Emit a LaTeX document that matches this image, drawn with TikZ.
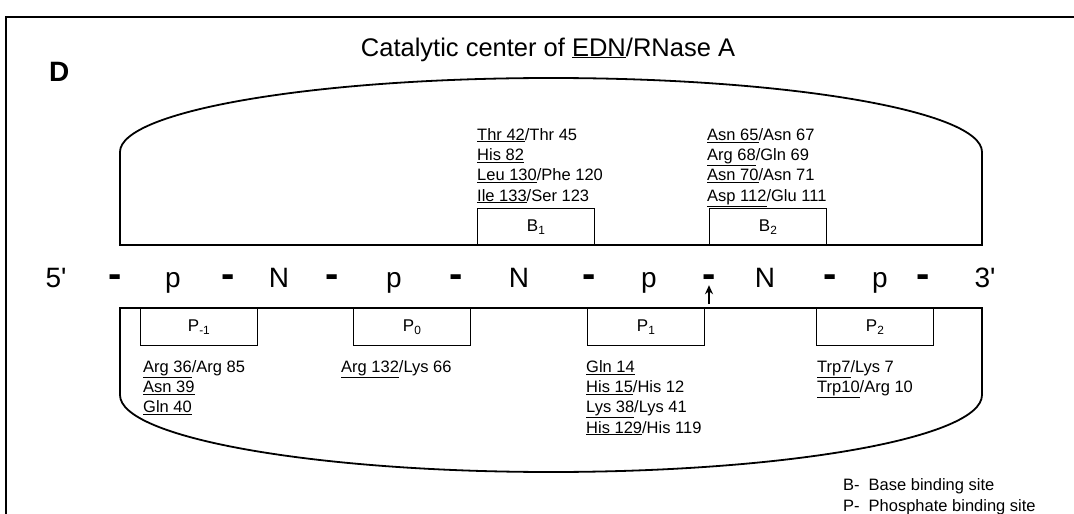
\documentclass[tikz,border=0pt]{standalone}
\usepackage{fontspec}
\setmainfont{Liberation Sans}
\usetikzlibrary{arrows.meta,positioning}

\tikzset{
  outline/.style={line width=1.8pt},
  sitebox/.style={draw, line width=1.3pt, minimum width=117pt, minimum height=37pt,
    inner sep=0pt, font=\fontsize{17}{19}\selectfont},
  restxt/.style={anchor=north west, inner sep=0pt, align=left,
    font={\fontsize{16.5}{20.3}\selectfont\lineskiplimit=-20pt}},
  seqtxt/.style={anchor=base, inner sep=0pt, font=\fontsize{28}{32}\selectfont},
  seqdash/.style={anchor=base, inner sep=0pt, font=\bfseries\fontsize{40}{42}\selectfont},
}

\begin{document}
\begin{tikzpicture}[x=1pt,y=1pt]
    \useasboundingbox (0,0) rectangle (1074,-514);

    % frame and headings
    \draw[line width=2.2pt] (6,-514) -- (6,-17) -- (1074,-17);
    \node[font=\bfseries\fontsize{28}{32}\selectfont, anchor=base west, inner sep=0pt] (panel) at (49,-81) {D};
    \node[font=\fontsize{25.5}{30}\selectfont, anchor=base, inner sep=0pt] (title) at (548,-56) {Catalytic center of \underline{EDN}/RNase A};

    % the two halves of the pocket
    \draw[outline] (120,-245) -- (120,-152) arc[start angle=180, end angle=0, x radius=431, y radius=74] -- (982,-245) -- cycle;
    \draw[outline] (120,-308) -- (120,-395) arc[start angle=180, end angle=360, x radius=431, y radius=77] -- (982,-308) -- cycle;

    % binding sites
    \node[sitebox, anchor=north west] (b1) at (477,-208) {B\textsubscript{1}};
    \node[sitebox, anchor=north west] (b2) at (709,-208) {B\textsubscript{2}};
    \node[sitebox, anchor=north west] (pm1) at (140,-308) {P\textsubscript{-1}};
    \node[sitebox, anchor=north west] (p0) at (353,-308) {P\textsubscript{0}};
    \node[sitebox, anchor=north west] (p1) at (587,-308) {P\textsubscript{1}};
    \node[sitebox, anchor=north west] (p2) at (816,-308) {P\textsubscript{2}};

    % residues
    \node[restxt] (b1res) at (477,-128) {\underline{Thr 42}/Thr 45\\\underline{His 82}\\\underline{Leu 130}/Phe 120\\\underline{Ile 133}/Ser 123};
    \node[restxt] (b2res) at (707,-128) {\underline{Asn 65}/Asn 67\\\underline{Arg 68}/Gln 69\\\underline{Asn 70}/Asn 71\\\underline{Asp 112}/Glu 111};
    \node[restxt] (pm1res) at (143,-360) {\underline{Arg 36}/Arg 85\\\underline{Asn 39}\\\underline{Gln 40}};
    \node[restxt] (p0res) at (341,-360) {\underline{Arg 132}/Lys 66};
    \node[restxt] (p1res) at (586,-360) {\underline{Gln 14}\\\underline{His 15}/His 12\\\underline{Lys 38}/Lys 41\\\underline{His 129}/His 119};
    \node[restxt] (p2res) at (817,-360) {\underline{Trp7}/Lys 7\\\underline{Trp10}/Arg 10};

    % sequence
    \node[seqtxt] (s1) at (56,-287) {5\textquotesingle};
    \node[seqdash] (s2) at (115,-287) {-};
    \node[seqtxt] (s3) at (173,-287) {p};
    \node[seqdash] (s4) at (228,-287) {-};
    \node[seqtxt] (s5) at (279,-287) {N};
    \node[seqdash] (s6) at (332,-287) {-};
    \node[seqtxt] (s7) at (394,-287) {p};
    \node[seqdash] (s8) at (456,-287) {-};
    \node[seqtxt] (s9) at (519,-287) {N};
    \node[seqdash] (s10) at (589,-287) {-};
    \node[seqtxt] (s11) at (649,-287) {p};
    \node[seqdash] (s12) at (709,-287) {-};
    \node[seqtxt] (s13) at (765,-287) {N};
    \node[seqdash] (s14) at (830,-287) {-};
    \node[seqtxt] (s15) at (880,-287) {p};
    \node[seqdash] (s16) at (923,-287) {-};
    \node[seqtxt] (s17) at (985,-287) {3\textquotesingle};

    % cleavage
    \coordinate (cut) at ([yshift=-17pt]s12.south);
    \draw[line width=1.5pt, -{Stealth[length=9pt,width=8pt]}] (cut) -- ([yshift=2pt]s12.south);

    % legend
    \node[anchor=base west, inner sep=0pt, font=\fontsize{16.5}{21.5}\selectfont] (legend) at (843,-490)
      {\begin{tabular}[t]{@{}l@{\hspace{9pt}}l@{}}B- & Base binding site\\ P- & Phosphate binding site\end{tabular}};
\end{tikzpicture}
\end{document}
